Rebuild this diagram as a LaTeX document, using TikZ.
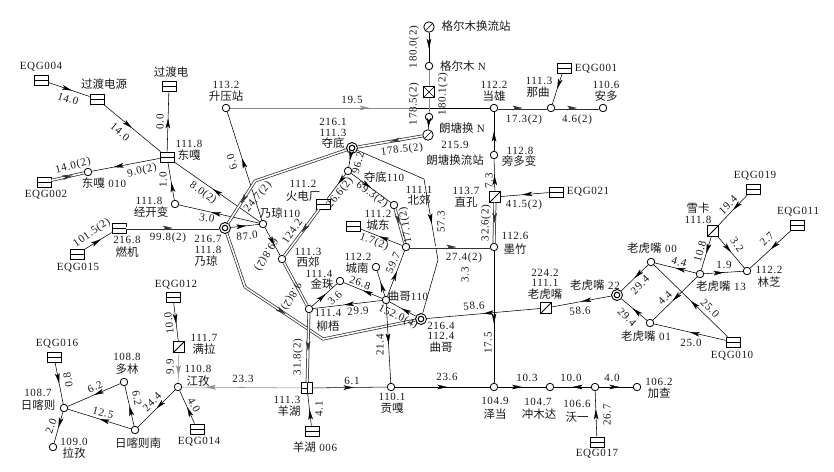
\documentclass[tikz,border=0pt]{standalone}
\usepackage{fontspec}
\usetikzlibrary{arrows.meta,decorations.markings}
\newfontfamily\cjkf{Noto Sans CJK SC}
\newfontfamily\lbf[LetterSpace=6]{Liberation Serif}
\newcommand\zh[1]{{\cjkf\fontsize{11.5}{11.5}\selectfont #1}}
\newcommand\eq[1]{EQG#1}
\newcounter{lbn}
\tikzset{
 every path/.style={line width=.55pt},
 lab/.style={inner sep=0pt,font=\lbf\fontsize{11}{11}\selectfont,text=black!90},
 ar/.style={postaction={decorate,decoration={markings,mark=at position #1 with {\arrow[line width=.3pt]{Stealth[length=10pt,width=4.6pt,inset=2.5pt]}}}}},
 dbl/.style={double,double distance=1.5pt,line width=.75pt,draw=black!80},
 lite/.style={draw=black!45},
 bus/.style={circle,draw,fill=white,inner sep=0pt,minimum size=7.5pt,line width=.8pt},
 busb/.style={circle,draw,fill=white,inner sep=0pt,minimum size=11pt,line width=.9pt,
   path picture={\draw[line width=1pt] (path picture bounding box.center) circle (2.8pt);}},
 gen/.style={rectangle,draw,fill=white,inner sep=0pt,minimum width=14pt,minimum height=10pt,line width=.8pt,
   path picture={\draw[line width=.8pt] (path picture bounding box.west)--(path picture bounding box.east);}},
 slashb/.style={rectangle,draw,fill=white,inner sep=0pt,minimum size=10.5pt,line width=1pt,
   path picture={\draw[line width=.8pt] (path picture bounding box.south west)--(path picture bounding box.north east);}},
 xbox/.style={rectangle,draw,fill=white,inner sep=0pt,minimum size=10.5pt,line width=.7pt,
   path picture={\draw[line width=.5pt] (path picture bounding box.north west)--(path picture bounding box.south east)
     (path picture bounding box.south west)--(path picture bounding box.north east);}},
 ybox/.style={rectangle,draw,fill=white,inner sep=0pt,minimum size=10.5pt,line width=1pt,
   path picture={\draw[line width=.8pt] (path picture bounding box.west)--(path picture bounding box.center)--(path picture bounding box.north)
     (path picture bounding box.center)--(path picture bounding box.south);}},
 conv/.style={circle,draw,fill=white,inner sep=0pt,minimum size=10.5pt,line width=.8pt,
   path picture={\draw[line width=.45pt] (path picture bounding box.south west)--(path picture bounding box.north east);}},
}
\newcommand\lb[4]{\stepcounter{lbn}\node[lab,rotate=#3] (lab\arabic{lbn}) at (#1,#2) {#4};}
\begin{document}
\begin{tikzpicture}[x=1pt,y=-1pt]
\useasboundingbox (0,0) rectangle (834,471);
% ---- nodes
\node[gen] (e4) at (41,80) {};
\node[gen] (gdy) at (97,99) {};
\node[gen] (gdd) at (169,86) {};
\node[gen] (dg) at (167,157) {};
\node[bus] (dg10) at (88,172) {};
\node[gen] (e2) at (44,182) {};
\node[bus] (jk) at (175,204) {};
\node[bus] (sy) at (226,108) {};
\node[bus] (nq1) at (263,224) {};
\node[busb] (nq) at (225,228) {};
\node[gen] (rj) at (119,228) {};
\node[gen] (e15) at (77,254) {};
\node[busb] (dd) at (352,148) {};
\node[conv] (lt) at (428,135) {};
\node[bus] (ltn) at (429,117) {};
\node[bus] (dd1) at (348,171) {};
\node[bus] (bj) at (394,205) {};
\node[bus] (cd) at (406,247) {};
\node[gen] (ub) at (353,226) {};
\node[gen] (hd) at (323,204) {};
\node[bus] (xj) at (282,259) {};
\node[bus] (lw) at (309,309) {};
\node[bus] (jz) at (340,281) {};
\node[bus] (cn) at (376,267) {};
\node[bus] (qg1) at (386,300) {};
\node[busb] (qg) at (421,319) {};
\node[ybox] (yh) at (307,388) {};
\node[gen] (yh6) at (312,431) {};
\node[bus] (gg) at (391,387) {};
\node[bus] (zd) at (494,387) {};
\node[bus] (mz) at (494,247) {};
\node[conv] (glh) at (429,27) {};
\node[bus] (gl) at (429,66) {};
\node[xbox] (xb) at (429,92) {};
\node[bus] (dx) at (494,108) {};
\node[bus] (nqu) at (551,108) {};
\node[bus] (ad) at (603,108) {};
\node[gen] (e1) at (564,68) {};
\node[bus] (pd) at (494,155) {};
\node[slashb] (zk) at (495,197) {};
\node[gen] (e21) at (556,192) {};
\node[slashb] (lhb) at (546,308) {};
\node[busb] (l22) at (617,295) {};
\node[bus] (l00) at (651,262) {};
\node[bus] (l01) at (650,323) {};
\node[bus] (l13) at (700,274) {};
\node[slashb] (xk) at (713,231) {};
\node[bus] (lz) at (747,271) {};
\node[gen] (e19) at (753,189) {};
\node[gen] (e11) at (797,225) {};
\node[gen] (e10) at (733,342) {};
\node[gen] (e12) at (173,297) {};
\node[slashb] (ml) at (179,347) {};
\node[bus] (jzi) at (178,387) {};
\node[gen] (e14) at (197,429) {};
\node[bus] (rkn) at (135,430) {};
\node[bus] (dl) at (124,382) {};
\node[bus] (rk) at (64,408) {};
\node[gen] (e16) at (54,357) {};
\node[bus] (lzi) at (53,447) {};
\node[bus] (cmd) at (550,387) {};
\node[bus] (wy) at (595,387) {};
\node[bus] (jc) at (637,387) {};
\node[gen] (e17) at (597,442) {};
\coordinate (d1) at (255,181);
\coordinate (d2) at (245,287);
\coordinate (d3) at (323,339);
\coordinate (t1) at (424,179);
\coordinate (t2) at (438,260);
\coordinate (h1) at (416,108);
% ---- connectors
\draw[ar=.57] (e4)--(gdy);
\draw[ar=.5] (gdy)--(dg);
\draw[ar=.55] (dg)--(gdd);
\draw[ar=.68] (dg)--(dg10);
\draw[dbl,ar=.65] (e2)--(dg10);
\draw[ar=.55] (nq1)--(dg);
\draw[ar=.47] (jk)--(dg);
\draw[ar=.6] (nq1)--(jk);
\draw[ar=.57] (nq1)--(sy);
\draw[ar=.65] (nq1)--(xj);
\draw[ar=.55] (nq)--(nq1);
\draw[ar=.6] (e15)--(rj);
\draw[dbl,ar=.5] (rj)--(nq);
\draw[dbl,ar=.84] (dd)--(d1)--(nq);
\draw[dbl,ar=.43] (nq)--(d2)--(d3)--(qg);
\draw[dbl,ar=.5] (lt)--(dd);
\draw[ar=.56] (dd)--(t1)--(t2)--(qg);
\draw[ar=.5] (dd)--(dd1);
\draw[ar=.4] (dd1)--(hd);
\draw[dbl,ar=.5] (hd)--(xj);
\draw[ar=.5] (dd1)--(bj);
\draw[dbl,ar=.45] (bj)--(cd);
\draw[ar=.55] (cd)--(ub);
\draw[dbl,ar=.58] (cd)--(mz);
\draw[dbl,ar=.5] (zk)--(mz);
\draw[ar=.5] (zk)--(pd);
\draw[ar=.5] (pd)--(dx);
\draw[ar=.55] (mz)--(zd);
\draw[dbl] (xj)--(lw);
\draw[dbl,ar=.55] (lw)--(yh);
\draw[ar=.55] (qg1)--(lw);
\draw[ar=.5] (qg1)--(jz);
\draw[ar=.55] (lw)--(jz);
\draw[ar=.55] (qg1)--(cn);
\draw[ar=.55] (qg1)--(cd);
\draw[ar=.55] (qg)--(qg1);
\draw[ar=.5] (qg1)--(gg);
\draw[ar=.55] (yh)--(gg);
\draw[ar=.55] (gg)--(zd);
\draw[ar=.5] (yh6)--(yh);
\draw[ar=.5] (zd)--(cmd);
\draw[ar=.5] (wy)--(cmd);
\draw[ar=.6] (wy)--(jc);
\draw[ar=.6] (e17)--(wy);
\draw[ar=.5] (lhb)--(qg);
\draw[ar=.5] (l22)--(lhb);
\draw[ar=.5] (l00)--(l22);
\draw[ar=.55] (l01)--(l22);
\draw[ar=.5] (l13)--(l00);
\draw[ar=.55] (l13)--(l01);
\draw[ar=.5] (l13)--(lz);
\draw[ar=.5] (xk)--(l13);
\draw[ar=.5] (xk)--(lz);
\draw[ar=.5] (e19)--(xk);
\draw[ar=.5] (e11)--(lz);
\draw[ar=.5] (e10)--(l00);
\draw[ar=.5] (e10)--(l01);
\draw[lite,ar=.75] (sy)--(h1);
\draw (h1)--(dx);
\draw[dbl,ar=.5] (dx)--(nqu);
\draw[dbl,ar=.5] (nqu)--(ad);
\draw[ar=.5] (e1)--(nqu);
\draw[ar=.55] (e21)--(zk);
\draw[ar=.55] (glh)--(gl);
\draw[lite] (gl)--(xb);
\draw[lite] (xb)--(ltn);
\draw[ar=.8] (ltn)--(lt);
\draw[ar=.55] (e12)--(ml);
\draw[lite,ar=.75] (ml)--(jzi);
\draw[lite,ar=.8] (yh)--(jzi);
\draw[ar=.5] (e14)--(jzi);
\draw[ar=.5] (jzi)--(rkn);
\draw[ar=.5] (rkn)--(rk);
\draw[ar=.5] (rkn)--(dl);
\draw[ar=.5] (dl)--(rk);
\draw[ar=.5] (e16)--(rk);
\draw[ar=.5] (rk)--(lzi);
% ---- labels
\lb{41}{67}{0}{\eq{004}}
\lb{104}{84}{0}{\zh{过渡电源}}
\lb{171}{72}{0}{\zh{过渡电}}
\lb{189}{144}{0}{111.8}
\lb{189}{155}{0}{\zh{东嘎}}
\lb{104}{183}{0}{\zh{东嘎} 010}
\lb{46}{195}{0}{\eq{002}}
\lb{149}{201}{0}{111.8}
\lb{151}{212}{0}{\zh{经开变}}
\lb{226}{85}{0}{113.2}
\lb{226}{96}{0}{\zh{升压站}}
\lb{280}{213}{0}{\zh{乃琼}110}
\lb{208}{239}{0}{216.7}
\lb{208}{250}{0}{111.8}
\lb{206}{261}{0}{\zh{乃琼}}
\lb{127}{240}{0}{216.8}
\lb{127}{252}{0}{\zh{燃机}}
\lb{78}{268}{0}{\eq{015}}
\lb{68}{99}{-17}{14.0}
\lb{120}{132}{-40}{14.0}
\lb{160}{122}{90}{0.0}
\lb{142}{171}{15}{9.0(2)}
\lb{73}{166}{15}{14.0(2)}
\lb{203}{193}{-35}{8.0(2)}
\lb{163}{180}{90}{1.0}
\lb{92}{233}{35}{101.5(2)}
\lb{168}{238}{0}{99.8(2)}
\lb{247}{236}{7}{87.0}
\lb{207}{218}{-10}{3.0}
\lb{258}{197}{50}{24.7(2)}
\lb{232}{162}{108}{6.0}
\lb{266}{254}{240}{69.8(2)}
\lb{291}{296}{240}{9.8(2)}
\lb{352}{100}{0}{19.5}
\lb{333}{122}{0}{216.1}
\lb{333}{133}{0}{111.3}
\lb{333}{143}{0}{\zh{夺底}}
\lb{384}{177}{0}{\zh{夺底}110}
\lb{419}{190}{0}{111.1}
\lb{419}{200}{0}{\zh{北郊}}
\lb{378}{214}{0}{111.2}
\lb{378}{225}{0}{\zh{城东}}
\lb{303}{184}{0}{111.2}
\lb{303}{196}{0}{\zh{火电厂}}
\lb{308}{252}{0}{111.3}
\lb{308}{262}{0}{\zh{西郊}}
\lb{328}{313}{0}{111.4}
\lb{328}{326}{0}{\zh{柳梧}}
\lb{319}{274}{0}{111.4}
\lb{322}{284}{0}{\zh{金珠}}
\lb{358}{257}{0}{112.2}
\lb{357}{268}{0}{\zh{城南}}
\lb{408}{296}{0}{\zh{曲哥}110}
\lb{441}{326}{0}{216.4}
\lb{441}{336}{0}{112.4}
\lb{441}{347}{0}{\zh{曲哥}}
\lb{287}{400}{0}{111.3}
\lb{289}{411}{0}{\zh{羊湖}}
\lb{315}{447}{0}{\zh{羊湖} 006}
\lb{392}{397}{0}{110.1}
\lb{392}{408}{0}{\zh{贡嘎}}
\lb{495}{401}{0}{104.9}
\lb{495}{414}{0}{\zh{泽当}}
\lb{515}{236}{0}{112.6}
\lb{515}{249}{0}{\zh{墨竹}}
\lb{441}{222}{90}{57.3}
\lb{358}{163}{75}{96.2}
\lb{340}{193}{52}{26.6(2)}
\lb{292}{231}{55}{124.2}
\lb{372}{195}{-35}{69.3(2)}
\lb{406}{225}{100}{17.1(2)}
\lb{374}{242}{-20}{1.7(2)}
\lb{464}{258}{0}{27.4(2)}
\lb{402}{150}{8}{178.5(2)}
\lb{476}{26}{0}{\zh{格尔木换流站}}
\lb{463}{66}{0}{\zh{格尔木} N}
\lb{494}{85}{0}{112.2}
\lb{494}{96}{0}{\zh{当雄}}
\lb{539}{81}{0}{111.3}
\lb{538}{92}{0}{\zh{那曲}}
\lb{606}{85}{0}{110.6}
\lb{606}{96}{0}{\zh{安多}}
\lb{596}{69}{0}{\eq{001}}
\lb{520}{151}{0}{112.8}
\lb{519}{161}{0}{\zh{旁多变}}
\lb{466}{191}{0}{113.7}
\lb{466}{202}{0}{\zh{直孔}}
\lb{588}{192}{0}{\eq{021}}
\lb{462}{128}{0}{\zh{朗塘换} N}
\lb{455}{145}{0}{215.9}
\lb{455}{160}{0}{\zh{朗塘换流站}}
\lb{414}{47}{90}{180.0(2)}
\lb{414}{104}{90}{178.5(2)}
\lb{443}{94}{90}{180.1(2)}
\lb{524}{120}{0}{17.3(2)}
\lb{577}{120}{0}{4.6(2)}
\lb{489}{181}{90}{7.3}
\lb{524}{205}{0}{41.5(2)}
\lb{486}{223}{90}{32.6(2)}
\lb{465}{275}{90}{3.3}
\lb{488}{343}{90}{17.5}
\lb{474}{306}{5}{58.6}
\lb{580}{311}{5}{58.6}
\lb{545}{273}{0}{224.2}
\lb{545}{283}{0}{111.1}
\lb{545}{294}{0}{\zh{老虎嘴}}
\lb{595}{285}{0}{\zh{老虎嘴} 22}
\lb{652}{248}{0}{\zh{老虎嘴} 00}
\lb{646}{336}{0}{\zh{老虎嘴} 01}
\lb{721}{286}{0}{\zh{老虎嘴} 13}
\lb{698}{208}{0}{\zh{雪卡}}
\lb{698}{220}{0}{111.8}
\lb{769}{270}{0}{112.2}
\lb{769}{282}{0}{\zh{林芝}}
\lb{755}{176}{0}{\eq{019}}
\lb{798}{212}{0}{\eq{011}}
\lb{732}{356}{0}{\eq{010}}
\lb{640}{285}{45}{29.4}
\lb{627}{317}{-45}{29.4}
\lb{679}{262}{-15}{4.4}
\lb{665}{298}{45}{4.4}
\lb{724}{265}{0}{1.9}
\lb{700}{251}{75}{10.8}
\lb{737}{245}{-55}{3.2}
\lb{728}{205}{45}{19.4}
\lb{767}{239}{45}{2.7}
\lb{710}{308}{-45}{25.0}
\lb{691}{343}{0}{25.0}
\lb{176}{285}{0}{\eq{012}}
\lb{204}{338}{0}{111.7}
\lb{204}{349}{0}{\zh{满拉}}
\lb{198}{369}{0}{110.8}
\lb{198}{381}{0}{\zh{江孜}}
\lb{199}{442}{0}{\eq{014}}
\lb{138}{443}{0}{\zh{日喀则南}}
\lb{127}{357}{0}{108.8}
\lb{127}{369}{0}{\zh{多林}}
\lb{38}{393}{0}{108.7}
\lb{38}{405}{0}{\zh{日喀则}}
\lb{57}{344}{0}{\eq{016}}
\lb{74}{442}{0}{109.0}
\lb{74}{453}{0}{\zh{拉孜}}
\lb{169}{323}{97}{10.0}
\lb{170}{367}{90}{9.9}
\lb{243}{379}{0}{23.3}
\lb{194}{405}{-60}{4.0}
\lb{152}{402}{45}{24.4}
\lb{103}{413}{-15}{12.5}
\lb{137}{398}{-80}{6.2}
\lb{95}{387}{25}{6.2}
\lb{68}{380}{100}{0.8}
\lb{51}{426}{70}{2.0}
\lb{298}{357}{90}{31.8(2)}
\lb{358}{311}{5}{29.9}
\lb{360}{283}{-20}{26.8}
\lb{335}{298}{45}{3.6}
\lb{393}{263}{65}{59.7}
\lb{398}{317}{-25}{152.0(4)}
\lb{380}{345}{90}{21.4}
\lb{352}{381}{0}{6.1}
\lb{447}{377}{0}{23.6}
\lb{319}{409}{90}{4.1}
\lb{538}{402}{0}{104.7}
\lb{539}{414}{0}{\zh{冲木达}}
\lb{577}{404}{0}{106.6}
\lb{577}{417}{0}{\zh{沃一}}
\lb{659}{382}{0}{106.2}
\lb{659}{393}{0}{\zh{加查}}
\lb{597}{454}{0}{\eq{017}}
\lb{527}{378}{0}{10.3}
\lb{571}{378}{0}{10.0}
\lb{612}{378}{0}{4.0}
\lb{607}{415}{90}{26.7}
\end{tikzpicture}
\end{document}
